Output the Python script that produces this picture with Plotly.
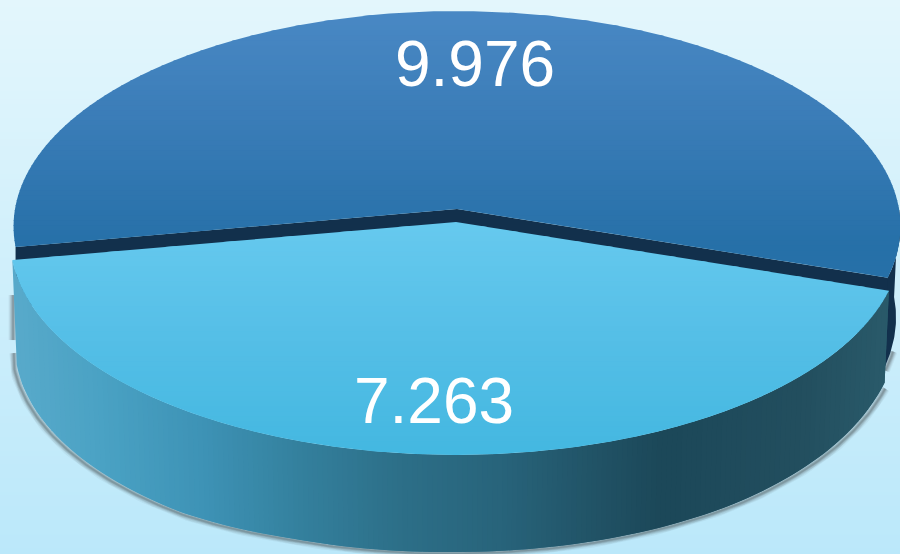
import numpy as np
import plotly.graph_objects as go

# ---- data ----
slice_names = ["dark", "light"]
values = [9.976, 7.263]
labels = [f"{v:.3f}" for v in values]

# ---- geometry / style ----
W, H = 900, 554
RX, RY, K = 442.0, 214.0, 0.0812
CX = 457.0
DARK_CY, LIGHT_CY = 209.0, 222.0
LIGHT_DX, LIGHT_SX = -1.0, 1.005
START_DEG = 190.1
DEPTH_U = [-1, -.58, -.35, 0, .4, .6, .8, .95, 1]
DEPTH_D = [105, 104, 99, 97, 97, 97, 95, 92, 91]


def hex2rgb(h):
    return np.array([int(h[i:i + 2], 16) for i in (1, 3, 5)], float)


def ramp(stops, t):
    xs = [s[0] for s in stops]
    cs = np.array([hex2rgb(s[1]) for s in stops])
    return "rgb(%d,%d,%d)" % tuple(np.interp(t, xs, cs[:, i]) for i in range(3))


BG = [(0, "#e3f6fc"), (554, "#bbe8fa")]
DARK_TOP = [(11, "#4a89c5"), (120, "#3b7db8"), (250, "#2670a8"), (300, "#2670a8")]
LIGHT_TOP = [(222, "#67caef"), (340, "#55bfe7"), (456, "#44b8e1")]
WALL = [(12, "#58aacb"), (100, "#4aa2c4"), (200, "#3e93b6"), (300, "#34809d"),
        (400, "#2d6f88"), (500, "#28647b"), (600, "#215265"), (660, "#1c4859"),
        (720, "#1f4b5c"), (800, "#234f5f"), (890, "#2a5b6b")]
NAVY = "#12304c"

frac = values[1] / sum(values)
sweep_light = 2 * np.pi * frac
a0 = np.deg2rad(START_DEG)
a1 = a0 + sweep_light        # light slice runs a0..a1 through the front
a2 = a0 + 2 * np.pi          # dark slice runs a1..a2 through the back


def proj(phi, cx, cy, sx=1.0):
    u, v = np.cos(phi), np.sin(phi)
    w = 1 + K * v
    return cx + RX * sx * u / w, cy - RY * v / w


def depth(phi):
    return np.interp(np.cos(phi), DEPTH_U, DEPTH_D)


def bottom(phi, cx, cy, sx=1.0):
    x, y = proj(phi, cx, cy, sx)
    return cx + (x - cx) * 0.99, y + depth(phi)


def clip(poly, ylo, yhi):
    def half(points, keep, cross):
        out = []
        n = len(points)
        for i in range(n):
            p, q = points[i], points[(i + 1) % n]
            if keep(p):
                out.append(p)
            if keep(p) != keep(q):
                t = (cross - p[1]) / (q[1] - p[1])
                out.append((p[0] + t * (q[0] - p[0]), cross))
        return out
    r = half(poly, lambda p: p[1] >= ylo, ylo)
    if r:
        r = half(r, lambda p: p[1] <= yhi, yhi)
    return r


fig = go.Figure()


def add_poly(xs, ys, color):
    fig.add_trace(go.Scatter(x=list(xs) + [xs[0]], y=list(ys) + [ys[0]], mode="lines",
                             fill="toself", fillcolor=color, line=dict(width=0),
                             hoverinfo="skip", showlegend=False))


def add_line(xs, ys, color, width):
    fig.add_trace(go.Scatter(x=xs, y=ys, mode="lines", line=dict(color=color, width=width),
                             hoverinfo="skip", showlegend=False))


def gradient_poly(poly, stops, step=5.0):
    ys = [p[1] for p in poly]
    y = min(ys)
    while y < max(ys):
        part = clip(poly, y - 0.8, y + step)
        if len(part) >= 3:
            add_poly([p[0] for p in part], [p[1] for p in part], ramp(stops, y + step / 2))
        y += step


# background
fig.add_trace(go.Heatmap(x=[0, W], y=[0, H], z=[[0, 0], [1, 1]], zsmooth="best", showscale=False,
                         colorscale=[[0, BG[0][1]], [1, BG[1][1]]], hoverinfo="skip"))

lx, ly = proj(a0, CX, DARK_CY)
rx, ry = proj(a1, CX, DARK_CY)

# shadows
for wid, al in [(9, .05), (7, .08), (5, .11), (3, .14), (1.5, .14)]:
    col = f"rgba(40,40,40,{al})"
    ph = np.linspace(a0, a1 - 0.02, 200)
    bx, by = bottom(ph, CX + LIGHT_DX, LIGHT_CY, LIGHT_SX)
    sx = bx + 3 * np.cos(ph)
    sy = by + 1.5
    add_line([sx[0]] + list(sx), [ly + 106] + list(sy), col, wid)
    add_line([lx - 2.5, lx - 2.5], [ly + 48, ly + 93], col, wid)
    ph = np.linspace(a1, a1 + np.deg2rad(5), 10)
    x, y = bottom(ph, CX, DARK_CY)
    add_line(list(x + 2), list(y + 1), col, wid)

# dark outer wall (right end, visible beside the light slice)
ph = np.linspace(a1 - 0.02, a1 + np.deg2rad(19), 40)
tx, ty = proj(ph, CX, DARK_CY)
bx, by = bottom(ph, CX, DARK_CY)
add_poly(list(tx) + list(bx[::-1]), list(ty) + list(by[::-1]), NAVY)

# dark cut walls
add_poly([CX, lx, lx, CX, rx, rx],
         [DARK_CY, ly, ly + 60, DARK_CY + 60, ry + 60, ry], NAVY)

# dark top
ph = np.linspace(a1, a2, 300)
x, y = proj(ph, CX, DARK_CY)
gradient_poly([(CX, DARK_CY)] + list(zip(x, y)), DARK_TOP)

# light wall: strips of equal width in x
fine = np.linspace(a0, a1, 2000)
fine_x = proj(fine, CX + LIGHT_DX, LIGHT_CY, LIGHT_SX)[0]
edges_x = np.arange(fine_x.min(), fine_x.max() + 5, 5.0)
phs = np.interp(edges_x, fine_x, fine)
for i in range(len(phs) - 1):
    p = np.linspace(phs[i], phs[min(i + 2, len(phs) - 1)], 5)
    tx, ty = proj(p, CX + LIGHT_DX, LIGHT_CY, LIGHT_SX)
    bx, by = bottom(p, CX + LIGHT_DX, LIGHT_CY, LIGHT_SX)
    add_poly(list(tx) + list(bx[::-1]), list(ty) + list(by[::-1]), ramp(WALL, float(edges_x[i])))

# light top
ph = np.linspace(a0, a1, 300)
x, y = proj(ph, CX + LIGHT_DX, LIGHT_CY, LIGHT_SX)
gradient_poly([(CX + LIGHT_DX, LIGHT_CY)] + list(zip(x, y)), LIGHT_TOP)

# labels
fig.add_trace(go.Scatter(x=[475, 434], y=[70, 407], mode="text", text=labels,
                         textposition="middle center", hoverinfo="skip", showlegend=False,
                         textfont=dict(family="Liberation Sans", size=64, color="white")))

axis = dict(visible=False, showgrid=False, zeroline=False, fixedrange=True)
fig.update_layout(width=W, height=H, margin=dict(l=0, r=0, t=0, b=0), showlegend=False,
                  paper_bgcolor="#d0eefa", plot_bgcolor="rgba(0,0,0,0)",
                  xaxis=dict(range=[0, W], **axis),
                  yaxis=dict(range=[H, 0], **axis))
fig.write_html("out.html", config=dict(displayModeBar=False),
               post_script="document.body.style.margin='0';document.documentElement.style.overflow='hidden';")
